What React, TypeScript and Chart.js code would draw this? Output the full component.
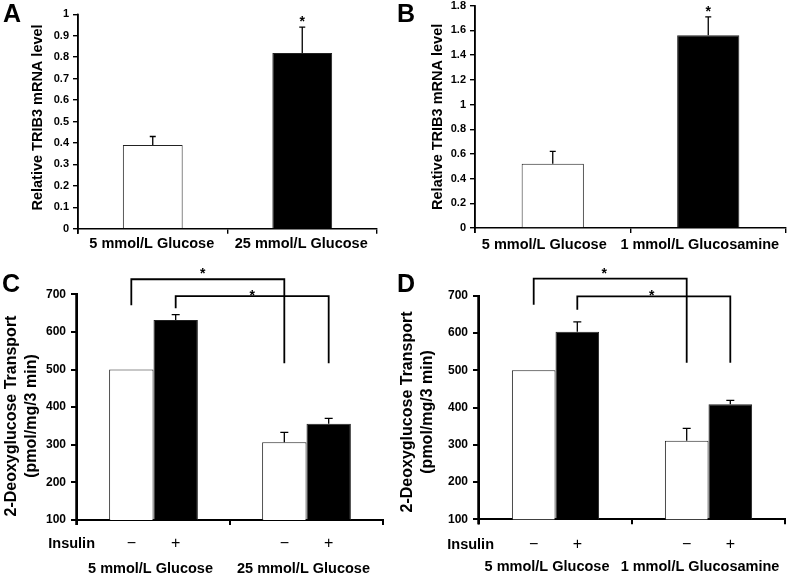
import React, { useEffect, useRef } from "react";
import { Chart, registerables } from "chart.js";

Chart.register(...registerables);

const FONT = '"Liberation Sans", Arial, Helvetica, sans-serif';
Chart.defaults.font.family = FONT;
Chart.defaults.color = "#000";

const W = 788;
const H = 577;

// ---------------- data ----------------
// Panel A
const categoriesA = ["5 mmol/L Glucose", "25 mmol/L Glucose"];
const trib3A = [0.39, 0.82];
const trib3ErrA = [0.04, 0.12];
const trib3SigA = ["", "*"];
const yTicksA = [0, 0.1, 0.2, 0.3, 0.4, 0.5, 0.6, 0.7, 0.8, 0.9, 1];

// Panel B
const categoriesB = ["5 mmol/L Glucose", "1 mmol/L Glucosamine"];
const trib3B = [0.52, 1.56];
const trib3ErrB = [0.1, 0.15];
const trib3SigB = ["", "*"];
const yTicksB = [0, 0.2, 0.4, 0.6, 0.8, 1, 1.2, 1.4, 1.6, 1.8];

// Panel C
const categoriesC = ["5 mmol/L Glucose", "25 mmol/L Glucose"];
const basalC = [500, 307];
const basalErrC = [0, 26];
const insulinC = [632, 356];
const insulinErrC = [14, 14];
const bracketTopC = [740, 695];
const bracketFromEndC = [671, 663];
const bracketToEndC = [517, 517];

// Panel D
const categoriesD = ["5 mmol/L Glucose", "1 mmol/L Glucosamine"];
const basalD = [500, 311];
const basalErrD = [0, 33];
const insulinD = [603, 409];
const insulinErrD = [27, 10];
const bracketTopD = [746, 698];
const bracketFromEndD = [676, 662];
const bracketToEndD = [520, 520];

const yTicksTransport = [100, 200, 300, 400, 500, 600, 700];
const insulinSigns = ["\u2212", "+"];
const bracketSig = ["*", "*"];

const titleTrib3 = "Relative TRIB3 mRNA level";
const titleTransport = ["2-Deoxyglucose Transport", "(pmol/mg/3 min)"];

// ---------------- panel layout ----------------
type Series = { values: number[]; errors: number[]; sig?: string[]; fill: string | string[] };
type Spec = {
  letter: string;
  letterX: number;
  letterY: number;
  boxLeft: number;
  boxBottom: number;
  area: [number, number, number, number];
  categories: string[];
  series: Series[];
  catPct: number;
  min: number;
  max: number;
  yTicks: number[];
  tickSize: number;
  yPad: number;
  yTickLen: number;
  title: string | string[];
  titleShift: number;
  titleSize: number;
  titleLH: number;
  titlePad: number;
  xPad: number;
  xLabelOffset: number;
  axisWidth: number;
  errCap: number;
  brackets?: { top: number[]; fromEnd: number[]; toEnd: number[]; starDx: number[]; starGap: number[] };
  insulinY?: number;
  insulinDx?: number;
};

const specs: Spec[] = [
  {
    letter: "A", letterX: 3, letterY: 22,
    boxLeft: 0, boxBottom: 270, area: [78, 14.3, 377, 228.7],
    categories: categoriesA,
    series: [{ values: trib3A, errors: trib3ErrA, sig: trib3SigA, fill: ["#fff", "#000"] }],
    catPct: 0.4, min: 0, max: 1, yTicks: yTicksA, tickSize: 11, yPad: 4, yTickLen: 5,
    title: titleTrib3, titleShift: -2, titleSize: 14.5, titleLH: 1.2, titlePad: 29,
    xPad: 2, xLabelOffset: -1, axisWidth: 1.4, errCap: 6,
  },
  {
    letter: "B", letterX: 397, letterY: 22,
    boxLeft: 394, boxBottom: 270, area: [475, 5.7, 786, 228],
    categories: categoriesB,
    series: [{ values: trib3B, errors: trib3ErrB, sig: trib3SigB, fill: ["#fff", "#000"] }],
    catPct: 0.4, min: 0, max: 1.8, yTicks: yTicksB, tickSize: 11, yPad: 4, yTickLen: 5,
    title: titleTrib3, titleShift: 0, titleSize: 14.5, titleLH: 1.2, titlePad: 35,
    xPad: 3, xLabelOffset: -8.5, axisWidth: 1.4, errCap: 6,
  },
  {
    letter: "C", letterX: 2, letterY: 292,
    boxLeft: 0, boxBottom: 577, area: [77, 294.3, 383, 520],
    categories: categoriesC,
    series: [
      { values: basalC, errors: basalErrC, fill: "#fff" },
      { values: insulinC, errors: insulinErrC, fill: "#000" },
    ],
    catPct: 0.58, min: 100, max: 700, yTicks: yTicksTransport, tickSize: 12, yPad: 5, yTickLen: 6,
    title: titleTransport, titleShift: 4, titleSize: 16, titleLH: 1.25, titlePad: 2,
    xPad: 35, xLabelOffset: -3, axisWidth: 2, errCap: 8,
    brackets: { top: bracketTopC, fromEnd: bracketFromEndC, toEnd: bracketToEndC, starDx: [-5, 0], starGap: [9, 4] },
    insulinY: 544, insulinDx: 18,
  },
  {
    letter: "D", letterX: 397, letterY: 292,
    boxLeft: 394, boxBottom: 577, area: [479, 295.7, 785, 519.3],
    categories: categoriesD,
    series: [
      { values: basalD, errors: basalErrD, fill: "#fff" },
      { values: insulinD, errors: insulinErrD, fill: "#000" },
    ],
    catPct: 0.57, min: 100, max: 700, yTicks: yTicksTransport, tickSize: 12, yPad: 5, yTickLen: 6,
    title: titleTransport, titleShift: 2, titleSize: 16, titleLH: 1.25, titlePad: 4,
    xPad: 34, xLabelOffset: -8.5, axisWidth: 2, errCap: 8,
    brackets: { top: bracketTopD, fromEnd: bracketFromEndD, toEnd: bracketToEndD, starDx: [-6, -2], starGap: [9, 4] },
    insulinY: 545, insulinDx: 15,
  },
];

function shiftTitle(t: string | string[], n: number): string | string[] {
  const pad = " ".repeat(Math.abs(n));
  const f = (s: string) => (n > 0 ? s + pad : pad + s);
  return Array.isArray(t) ? t.map(f) : f(t);
}

function drawYAxisLine(chart: any, p: Spec) {
  const ctx = chart.ctx as CanvasRenderingContext2D;
  const ys = chart.scales.y;
  const top = ys.getPixelForValue(p.max);
  const bottom = ys.getPixelForValue(p.min);
  const x = ys.right;
  ctx.save();
  ctx.globalAlpha = 1;
  ctx.globalCompositeOperation = "source-over";
  ctx.setLineDash([]);
  ctx.strokeStyle = "#000";
  ctx.lineWidth = p.axisWidth;
  ctx.beginPath();
  ctx.moveTo(x - p.axisWidth / 2 + 0.5, top - 0.5);
  ctx.lineTo(x - p.axisWidth / 2 + 0.5, bottom + 5);
  ctx.stroke();
  ctx.restore();
}

function overlayPlugin(p: Spec) {
  return {
    id: "overlay" + p.letter,
    afterDatasetsDraw(chart: any) {
      drawYAxisLine(chart, p);
    },
    afterDraw(chart: any) {
      const ctx = chart.ctx as CanvasRenderingContext2D;
      const ys = chart.scales.y;
      const area = chart.chartArea;
      drawYAxisLine(chart, p);
      ctx.save();
      ctx.strokeStyle = "#000";
      ctx.fillStyle = "#000";

      // error bars and significance marks
      p.series.forEach((s, di) => {
        const meta = chart.getDatasetMeta(di);
        meta.data.forEach((bar: any, i: number) => {
          const e = s.errors[i] || 0;
          const topPx = ys.getPixelForValue(s.values[i] + e);
          if (e > 0) {
            ctx.lineWidth = 1.3;
            ctx.beginPath();
            ctx.moveTo(bar.x, bar.y);
            ctx.lineTo(bar.x, topPx);
            ctx.moveTo(bar.x - p.errCap / 2, topPx);
            ctx.lineTo(bar.x + p.errCap / 2, topPx);
            ctx.stroke();
          }
          const sig = s.sig && s.sig[i];
          if (sig) {
            ctx.font = `bold 14px ${FONT}`;
            ctx.textAlign = "center";
            ctx.textBaseline = "alphabetic";
            ctx.fillText(sig, bar.x, topPx - 1);
          }
        });
      });

      // comparison brackets
      if (p.brackets) {
        const br = p.brackets;
        br.top.forEach((topV, k) => {
          const meta = chart.getDatasetMeta(k);
          const x1 = meta.data[0].x;
          const x2 = meta.data[1].x;
          const yTop = ys.getPixelForValue(topV);
          const y1 = ys.getPixelForValue(br.fromEnd[k]);
          const y2 = ys.getPixelForValue(br.toEnd[k]);
          ctx.lineWidth = 1.8;
          ctx.beginPath();
          ctx.moveTo(x1, y1);
          ctx.lineTo(x1, yTop);
          ctx.lineTo(x2, yTop);
          ctx.lineTo(x2, y2);
          ctx.stroke();
          ctx.font = `bold 14px ${FONT}`;
          ctx.textAlign = "center";
          ctx.textBaseline = "alphabetic";
          ctx.fillText(bracketSig[k], (x1 + x2) / 2 + br.starDx[k], yTop - br.starGap[k] + 8);
        });
      }

      // insulin row
      if (p.insulinY !== undefined) {
        ctx.font = `bold 14.5px ${FONT}`;
        ctx.textAlign = "right";
        ctx.textBaseline = "middle";
        ctx.fillText("Insulin", area.left + (p.insulinDx || 0), p.insulinY);
        ctx.font = `16px ${FONT}`;
        ctx.textAlign = "center";
        p.series.forEach((_s, di) => {
          const meta = chart.getDatasetMeta(di);
          meta.data.forEach((bar: any) => {
            ctx.fillText(insulinSigns[di], bar.x, p.insulinY as number);
          });
        });
      }

      // panel letter
      ctx.font = `bold 25px ${FONT}`;
      ctx.textAlign = "left";
      ctx.textBaseline = "alphabetic";
      ctx.fillText(p.letter, p.letterX, p.letterY);
      ctx.restore();
    },
  };
}

function buildConfig(p: Spec): any {
  const [l, t, r, b] = p.area;
  const yWidth = l - p.boxLeft;
  const xHeight = p.boxBottom - b;
  return {
    type: "bar",
    data: {
      labels: [...p.categories],
      datasets: p.series.map((s) => ({
        data: [...s.values],
        backgroundColor: s.fill,
        borderColor: "#222",
        borderWidth: 1,
      })),
    },
    options: {
      responsive: false,
      animation: false,
      events: [],
      layout: { padding: { left: p.boxLeft, top: t, right: W - r, bottom: H - p.boxBottom } },
      plugins: { legend: { display: false }, tooltip: { enabled: false } },
      datasets: { bar: { categoryPercentage: p.catPct, barPercentage: 1 } },
      scales: {
        x: {
          grid: { offset: true, drawOnChartArea: false, tickLength: 5, color: "#000", lineWidth: p.axisWidth },
          border: { display: true, color: "#000", width: p.axisWidth },
          ticks: {
            font: { size: 14.5, weight: "bold" },
            padding: p.xPad,
            labelOffset: p.xLabelOffset,
            maxRotation: 0,
            autoSkip: false,
          },
          afterFit(s: any) {
            s.height = xHeight;
            s.paddingLeft = 0;
            s.paddingRight = 0;
          },
        },
        y: {
          min: p.min,
          max: p.max,
          afterBuildTicks(s: any) {
            s.ticks = p.yTicks.map((v) => ({ value: v }));
          },
          ticks: { callback: (v: any) => String(v), font: { size: p.tickSize, weight: "bold" }, padding: p.yPad },
          grid: { drawOnChartArea: false, tickLength: p.yTickLen, color: "#000", lineWidth: p.axisWidth },
          border: { display: true, color: "#000", width: p.axisWidth, z: 1 },
          title: {
            display: true,
            text: shiftTitle(p.title, p.titleShift),
            font: { size: p.titleSize, weight: "bold", lineHeight: p.titleLH },
            padding: { top: p.titlePad, bottom: 0 },
          },
          afterFit(s: any) {
            s.width = yWidth;
            s.paddingTop = 0;
            s.paddingBottom = 0;
          },
        },
      },
    },
    plugins: [overlayPlugin(p)],
  };
}

function Panel({ index }: { index: number }) {
  const ref = useRef<HTMLCanvasElement | null>(null);
  useEffect(() => {
    if (!ref.current) return;
    const chart = new Chart(ref.current, buildConfig(specs[index]));
    return () => chart.destroy();
  }, [index]);
  return (
    <canvas
      ref={ref}
      width={W}
      height={H}
      style={{ position: "absolute", left: 0, top: 0, width: W, height: H }}
    />
  );
}

export default function App() {
  return (
    <div style={{ position: "absolute", left: 0, top: 0, width: W, height: H, background: "#fff" }}>
      {specs.map((_s, i) => (
        <Panel key={i} index={i} />
      ))}
    </div>
  );
}
